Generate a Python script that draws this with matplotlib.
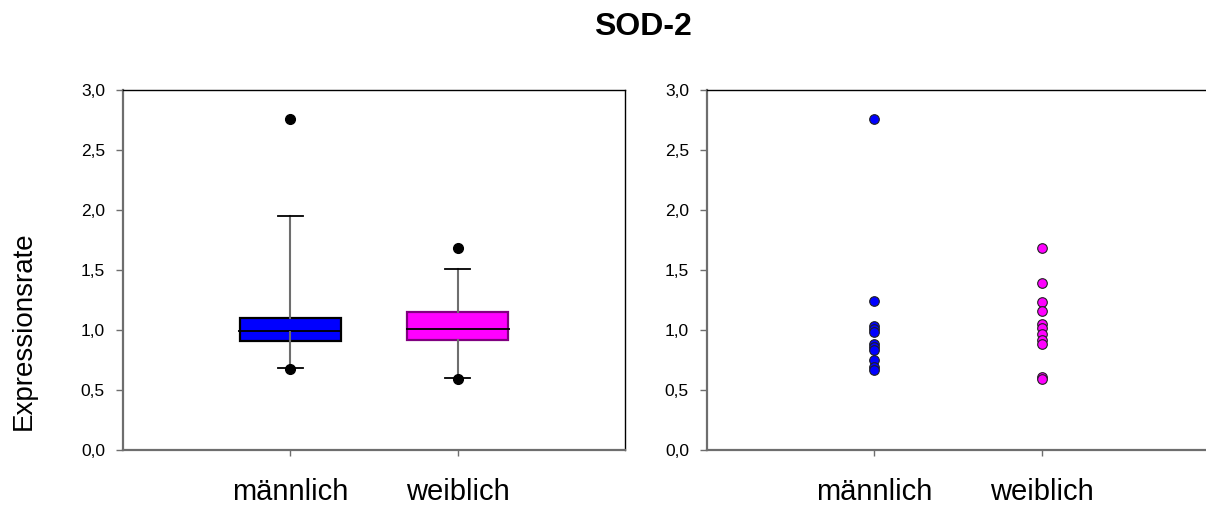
import matplotlib.pyplot as plt

plt.rcParams['font.family'] = ['Liberation Sans', 'DejaVu Sans']

# Einzelwerte der Expressionsrate
groups = ['männlich', 'weiblich']
male_values = [2.76, 1.24, 1.03, 1.01, 0.98, 0.88, 0.86, 0.83, 0.75, 0.69, 0.67]
female_values = [1.68, 1.39, 1.23, 1.16, 1.05, 1.02, 0.97, 0.92, 0.88, 0.61, 0.59]

# Boxplot-Kennwerte (Quartile, Median, 10./90. Perzentil, Ausreisser)
q1 = [0.91, 0.915]
med = [0.99, 1.012]
q3 = [1.10, 1.153]
whislo = [0.686, 0.597]
whishi = [1.95, 1.506]
fliers = [[0.672, 2.756], [0.589, 1.683]]

face_colors = ['#0000ff', '#ff00ff']
edge_colors = ['#000000', '#800080']
yticks = [0.0, 0.5, 1.0, 1.5, 2.0, 2.5, 3.0]
ytick_labels = ['0,0', '0,5', '1,0', '1,5', '2,0', '2,5', '3,0']

fig = plt.figure(figsize=(12.06, 5.07), dpi=100)
ax1 = fig.add_axes([123 / 1206, 57 / 507, 502 / 1206, 360 / 507])
ax2 = fig.add_axes([707 / 1206, 57 / 507, 502 / 1206, 360 / 507])

positions = [1, 2]

# linkes Diagramm: Boxplots
stats = []
for i in range(2):
    stats.append({'q1': q1[i], 'med': med[i], 'q3': q3[i],
                  'whislo': whislo[i], 'whishi': whishi[i], 'fliers': fliers[i]})

bp = ax1.bxp(stats, positions=positions, widths=0.6, patch_artist=True,
             showfliers=True,
             whiskerprops=dict(color='#6e6e6e', linewidth=1.5),
             capprops=dict(color='black', linewidth=1.3),
             medianprops=dict(color='black', linewidth=1.3),
             flierprops=dict(marker='o', markerfacecolor='black',
                             markeredgecolor='black', markersize=7))
for patch, fc, ec in zip(bp['boxes'], face_colors, edge_colors):
    patch.set_facecolor(fc)
    patch.set_edgecolor(ec)
    patch.set_linewidth(1.6)
for cap in bp['caps']:
    x0, x1 = cap.get_xdata()
    c = (x0 + x1) / 2
    cap.set_xdata([c - 0.075, c + 0.075])
for line in bp['medians']:
    x0, x1 = line.get_xdata()
    line.set_xdata([x0 - 0.01, x1 + 0.01])

# unterer Whisker im maennlichen Boxplot reicht bis zum Median
ax1.vlines(positions[0], q1[0], med[0], color='#6e6e6e', linewidth=1.5, zorder=3)

# rechtes Diagramm: Einzelwerte
ax2.scatter([positions[0]] * len(male_values), male_values, s=48,
            color=face_colors[0], edgecolors='#202020', linewidths=0.8, zorder=3)
ax2.scatter([positions[1]] * len(female_values), female_values, s=48,
            color=face_colors[1], edgecolors='#202020', linewidths=0.8, zorder=3)

for ax in (ax1, ax2):
    ax.set_xlim(0, 3)
    ax.set_ylim(0, 3)
    ax.set_yticks(yticks)
    ax.set_yticklabels(ytick_labels, fontsize=12.5)
    ax.set_xticks(positions)
    ax.set_xticklabels(groups, fontsize=21)
    ax.tick_params(axis='y', direction='out', length=5, width=1,
                   color='#6e6e6e', pad=8)
    ax.tick_params(axis='x', direction='out', length=4, width=1,
                   color='#6e6e6e', pad=16)
    ax.spines['left'].set_color('#6e6e6e')
    ax.spines['left'].set_linewidth(1.6)
    ax.spines['bottom'].set_color('#6e6e6e')
    ax.spines['bottom'].set_linewidth(1.6)
    ax.spines['top'].set_color('black')
    ax.spines['top'].set_linewidth(1.0)
    ax.spines['right'].set_color('black')
    ax.spines['right'].set_linewidth(1.0)

fig.text(643 / 1206, 1 - 27 / 507, 'SOD-2', fontsize=23, fontweight='bold',
         ha='center', va='center')
fig.text(24 / 1206, 1 - 331 / 507, 'Expressionsrate', fontsize=20,
         rotation=90, ha='center', va='center')

fig.savefig('out.png', dpi=100)
